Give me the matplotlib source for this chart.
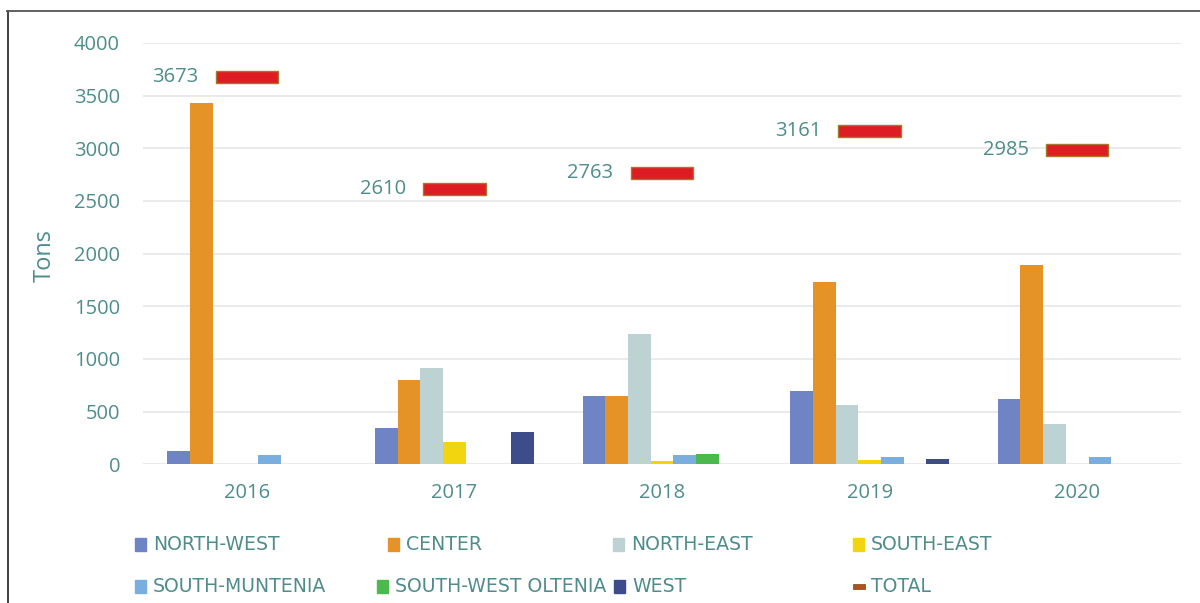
import matplotlib
matplotlib.use("Agg")
import matplotlib.pyplot as plt
from matplotlib.patches import Rectangle
from matplotlib.lines import Line2D
import numpy as np

years = ["2016", "2017", "2018", "2019", "2020"]
regions = ["NORTH-WEST", "CENTER", "NORTH-EAST", "SOUTH-EAST",
           "SOUTH-MUNTENIA", "SOUTH-WEST OLTENIA", "WEST"]
north_west = [127, 342, 649, 693, 620]
center = [3430, 801, 649, 1732, 1895]
north_east = [0, 915, 1235, 566, 383]
south_east = [5, 209, 28, 38, 0]
south_muntenia = [91, 0, 85, 66, 66]
south_west_oltenia = [0, 0, 95, 0, 0]
west = [0, 307, 0, 50, 0]
total = [3673, 2610, 2763, 3161, 2985]
yticks = [0, 500, 1000, 1500, 2000, 2500, 3000, 3500, 4000]

series = [north_west, center, north_east, south_east,
          south_muntenia, south_west_oltenia, west]
colors = ["#6f84c4", "#e59327", "#bdd3d3", "#f2d50f",
          "#7aaedf", "#4cb94f", "#3d4c8a"]
teal = "#4f8d8d"
num_font = ["Open Sans", "DejaVu Sans"]
leg_font = ["DejaVu Sans"]

fig = plt.figure(figsize=(12, 6.03), dpi=100)
ax = fig.add_axes([143 / 1200, (603 - 464.3) / 603, 1038 / 1200, 421.3 / 603])

x = np.arange(len(years))
bw = 0.1093
for i, (vals, c) in enumerate(zip(series, colors)):
    ax.bar(x + (i - 3) * bw, vals, width=bw, color=c, zorder=3)

# total markers
mh = 114
ax.bar(x, [mh] * len(total), bottom=np.array(total) - mh / 2, width=0.30,
       color="#dd1c24", edgecolor="#a5782c", linewidth=1.0, zorder=4)
for xi, t in zip(x, total):
    ax.text(xi - 0.234, t, str(t), ha="right", va="center", fontsize=14.5,
            color=teal, family=num_font, zorder=5)

ax.set_xlim(-0.5, 4.5)
ax.set_ylim(0, 4000)
ax.set_yticks(yticks)
ax.set_yticklabels([str(v) for v in yticks], family=num_font, fontsize=14.5, color=teal)
ax.set_xticks(x)
ax.set_xticklabels(years, family=num_font, fontsize=14.5, color=teal)
ax.tick_params(axis="both", length=0)
ax.tick_params(axis="y", pad=16.5)
ax.tick_params(axis="x", pad=13.5)
ax.grid(axis="y", color="#e8e8e8", linewidth=1.2, zorder=0)
for s in ax.spines.values():
    s.set_visible(False)
ax.set_axisbelow(True)
fig.text(45 / 1200, 1 - 255 / 603, "Tons", rotation=90, ha="center", va="center",
         fontsize=17, color=teal, family=num_font)

# frame lines
fig.add_artist(Line2D([7.5 / 1200, 7.5 / 1200], [0, 1 - 11 / 603], color="#333333", lw=1.3))
fig.add_artist(Line2D([7 / 1200, 1], [1 - 11 / 603, 1 - 11 / 603], color="#555555", lw=1.3))

# legend
leg_labels = regions + ["TOTAL"]
leg_pos = [(135, 544), (388, 544), (613, 544), (853, 544),
           (135, 586), (377, 586), (614, 586), (853, 586)]
for k, (lab, (px, py)) in enumerate(zip(leg_labels, leg_pos)):
    if k < 7:
        fig.add_artist(Rectangle((px / 1200, 1 - (py + 6.5) / 603), 11 / 1200, 13 / 603,
                                 color=colors[k], transform=fig.transFigure))
    else:
        fig.add_artist(Rectangle((px / 1200, 1 - (py + 2.5) / 603), 12 / 1200, 5 / 603,
                                 facecolor="#b0501c", edgecolor="#8a5a20", lw=0.6,
                                 transform=fig.transFigure))
    fig.text((px + 18) / 1200, 1 - py / 603, lab, ha="left", va="center",
             fontsize=13.6, color=teal, family=leg_font)

fig.savefig("out.png", dpi=100, facecolor="white")
